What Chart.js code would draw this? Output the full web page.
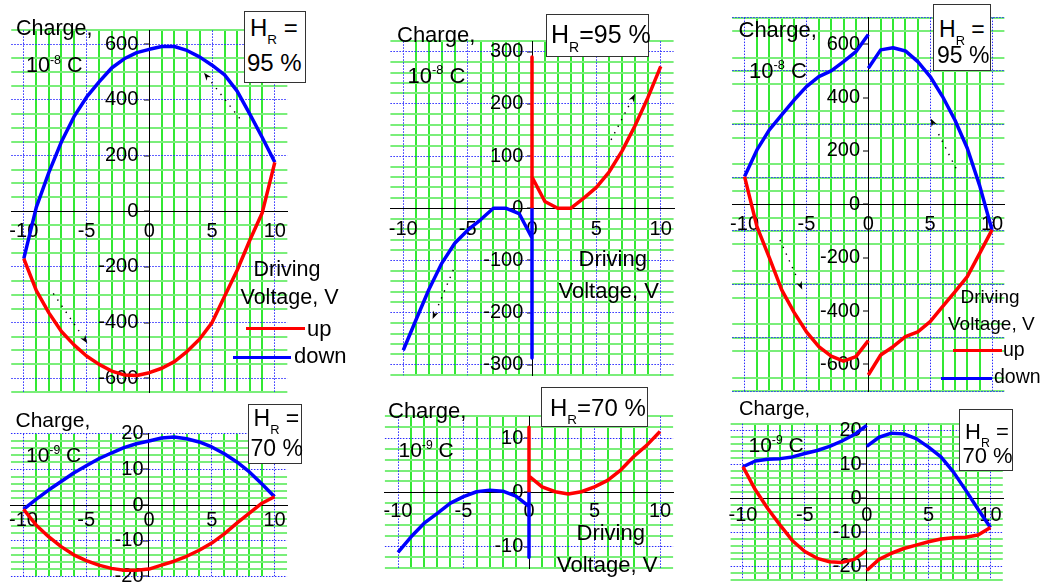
<!DOCTYPE html>
<html>
<head>
<meta charset="utf-8">
<title>Charge vs driving voltage loops</title>
<script src="https://cdn.jsdelivr.net/npm/chart.js@4.4.1/dist/chart.umd.min.js"></script>
<style>
  html, body { margin: 0; padding: 0; background: #fff; overflow: hidden; }
  #page { position: relative; width: 1043px; height: 585px; background: #fff; }
  #page canvas { position: absolute; left: 0; top: 0; }
  .t { position: absolute; white-space: nowrap; line-height: 1; color: #000;
       font-family: "Liberation Sans", Arial, Helvetica, sans-serif; }
  .t sup { font-size: 0.58em; line-height: 0; vertical-align: baseline; position: relative; top: -0.66em; }
  .t sub { font-size: 0.56em; line-height: 0; vertical-align: baseline; position: relative; top: 0.6em; }
  .box { position: absolute; background: #fff; border: 1px solid #333; box-sizing: border-box; }
  .key { position: absolute; height: 3.5px; }
</style>
</head>
<body>
<div id="page"></div>
<script>
// ---- driving voltage sweeps (V); null marks where a sweep restarts at 0 V ----
const sweepUp   = [-10, -9, -8, -7, -6, -5, -4, -3, -2, -1, 0, 1, 2, 3, 4, 5, 6, 7, 8, 9, 10];
const sweepDown = [10, 9, 8, 7, 6, 5, 4, 3, 2, 1, 0, -1, -2, -3, -4, -5, -6, -7, -8, -9, -10];
const splitUp   = [-10, -9, -8, -7, -6, -5, -4, -3, -2, -1, 0, null, 0, 1, 2, 3, 4, 5, 6, 7, 8, 9, 10];
const splitDown = [10, 9, 8, 7, 6, 5, 4, 3, 2, 1, 0, null, 0, -1, -2, -3, -4, -5, -6, -7, -8, -9, -10];
const fromZeroUp   = [0, 0, 0, 1, 2, 3, 4, 5, 6, 7, 8, 9, 10];
const fromZeroDown = [0, 0, 0, -1, -2, -3, -4, -5, -6, -7, -8, -9, -10];

// ---- charge, H_R = 95 % (units of 1e-8 C) ----
const q95LoopUp   = [-170, -285, -365, -432, -480, -520, -550, -574, -588, -590, -580, -564, -540, -504, -460, -400, -305, -212, -105, -5, 176];
const q95LoopDown = [176, 265, 350, 432, 490, 525, 555, 578, 592, 592, 582, 570, 548, 515, 465, 410, 340, 250, 140, 15, -170];
const q95ZeroUp   = [0, 290, 60, 13, 0, 0, 19, 40, 70, 110, 158, 212, 272];
const q95ZeroDown = [0, -287, -57, -10, 0, 0, -22, -42, -67, -105, -155, -213, -272];
const q95SplitUp   = [104, -84, -200, -321, -405, -478, -534, -569, -588, -571, -511, null, -640, -565, -534, -496, -478, -440, -384, -328, -271, -184, -96];
const q95SplitDown = [-96, 70, 210, 316, 404, 479, 535, 575, 587, 579, 510, null, 637, 572, 535, 500, 479, 441, 391, 335, 279, 204, 104];

// ---- charge, H_R = 70 % (units of 1e-9 C) ----
const q70LoopUp   = [-1.2, -5.6, -8.9, -11.7, -14.0, -15.6, -16.9, -17.8, -18.3, -18.3, -18.0, -16.9, -15.8, -14.4, -12.7, -10.7, -8.1, -5.1, -2.3, 0.5, 2.3];
const q70LoopDown = [2.3, 5.9, 9.3, 12.1, 14.4, 16.3, 17.7, 18.6, 19.1, 18.8, 18.0, 17.2, 16.1, 14.6, 13.0, 11.0, 9.0, 6.6, 4.2, 1.6, -1.2];
const q70ZeroUp   = [0, 12, 3.0, 1.0, 0.1, -0.3, 0.1, 1.0, 2.2, 4.1, 6.6, 8.7, 11.2];
const q70ZeroDown = [0, -12, -2.6, -0.7, 0.2, 0.4, 0.1, -0.8, -2.0, -3.9, -5.7, -8.2, -11.1];
const q70SplitUp   = [9.3, 2.5, -3.0, -7.9, -12.5, -15.7, -17.7, -18.7, -18.9, -18.0, -15.3, null, -21.3, -18.0, -16.2, -14.8, -13.8, -12.8, -12.0, -11.6, -11.5, -10.8, -8.6];
const q70SplitDown = [-8.6, -3.2, 2.4, 7.8, 12.2, 15.1, 17.6, 19.0, 19.2, 18.0, 15.3, null, 21.5, 18.8, 16.9, 15.3, 14.1, 13.2, 12.2, 11.7, 11.5, 11.0, 9.3];

// ---- tick labels ----
const voltTicks   = [-10, -5, 0, 5, 10];
const q95LoopTicks  = [-600, -400, -200, 0, 200, 400, 600];
const q95ZeroTicks  = [-300, -200, -100, 0, 100, 200, 300];
const q95SplitTicks = [-600, -400, -200, 0, 200, 400, 600];
const q70LoopTicks  = [-20, -10, 0, 10, 20];
const q70ZeroTicks  = [-10, 0, 10];
const q70SplitTicks = [-20, -10, 0, 10, 20];

// ---- sweep direction arrows: [fromV, fromQ, toV, toQ] ----
const q95LoopArrows  = [[7.2, 334, 4.36, 498], [-7.65, -295, -4.94, -474]];
const q95ZeroArrows  = [[6.14, 131, 8.0, 219], [-6.11, -118, -7.72, -212]];
const q95SplitArrows = [[7.09, 135, 5.04, 322], [-7.14, -134, -5.34, -319]];

// ---- styling ----
const W = 1043, H = 585;
const RED = '#ff0000', BLUE = '#0000ff';
const GRID_V = '#33e833', GRID_H = '#7aee7a', GRID_MAJOR = '#2b2bff';
const TICK_FONT = '20px "Liberation Sans", Arial, Helvetica, sans-serif';
const CLEAR = 'rgba(0,0,0,0)';

// plot areas [left, top, right, bottom] and charge axis [min, max, minor step, major step]
const panels = [
  { up: [sweepUp, q95LoopUp], down: [sweepDown, q95LoopDown], area: [11.25, 30.4, 287.35, 392.2],
    q: [-650, 650, 50, 200], yTicks: q95LoopTicks, xDrop: 26, yGap: 11, arrows: q95LoopArrows },
  { up: [fromZeroUp, q95ZeroUp], down: [fromZeroDown, q95ZeroDown], area: [390.4, 41.3, 673.6, 375.3],
    q: [-320, 320, 20, 100], yTicks: q95ZeroTicks, xDrop: 26.7, yGap: 8.7, arrows: q95ZeroArrows },
  { up: [splitUp, q95SplitUp], down: [splitDown, q95SplitDown], area: [732.2, 17.6, 1004.4, 391.0],
    q: [-700, 700, 50, 200], yTicks: q95SplitTicks, xDrop: 25.7, yGap: 8.3, arrows: q95SplitArrows },
  { up: [sweepUp, q70LoopUp], down: [sweepDown, q70LoopDown], area: [10.95, 433.8, 287.05, 576.2],
    q: [-20, 20, 2, 10], yTicks: q70LoopTicks, xDrop: 21, yGap: 5.5, arrows: [] },
  { up: [fromZeroUp, q70ZeroUp], down: [fromZeroDown, q70ZeroDown], area: [384.9, 416.4, 673.1, 568.2],
    q: [-14, 14, 2, 10], yTicks: q70ZeroTicks, xDrop: 24.3, yGap: 5.7, arrows: [] },
  { up: [splitUp, q70SplitUp], down: [splitDown, q70SplitDown], area: [730.6, 423.7, 1002.8, 579.7],
    q: [-24, 22, 2, 10], yTicks: q70SplitTicks, xDrop: 22.4, yGap: 5, arrows: [] }
];

function series(v, q) {
  return v.map((x, i) => (x === null ? { x: 0, y: null } : { x: x, y: q[i] }));
}
function onStep(v, step) {
  return Math.abs(v / step - Math.round(v / step)) < 1e-6;
}

// numbers next to the axes that cross at the origin
function axisNumbers(p) {
  return {
    id: 'axisNumbers',
    beforeDatasetsDraw(chart) {
      const ctx = chart.ctx, xs = chart.scales.x, ys = chart.scales.y;
      const x0 = xs.getPixelForValue(0), y0 = ys.getPixelForValue(0);
      ctx.save();
      ctx.font = TICK_FONT;
      ctx.fillStyle = '#000';
      ctx.textAlign = 'center';
      ctx.textBaseline = 'alphabetic';
      voltTicks.forEach(v => ctx.fillText(String(v), xs.getPixelForValue(v), y0 + p.xDrop));
      ctx.textAlign = 'right';
      ctx.textBaseline = 'middle';
      p.yTicks.forEach(v => ctx.fillText(String(v), x0 - p.yGap, ys.getPixelForValue(v)));
      ctx.restore();
    }
  };
}

// dotted arrows showing the sweep direction
function sweepArrows(p) {
  return {
    id: 'sweepArrows',
    afterDatasetsDraw(chart) {
      const ctx = chart.ctx, xs = chart.scales.x, ys = chart.scales.y;
      ctx.save();
      ctx.strokeStyle = '#000';
      ctx.fillStyle = '#000';
      p.arrows.forEach(a => {
        const x1 = xs.getPixelForValue(a[0]), y1 = ys.getPixelForValue(a[1]);
        const x2 = xs.getPixelForValue(a[2]), y2 = ys.getPixelForValue(a[3]);
        const ang = Math.atan2(y2 - y1, x2 - x1);
        const c = Math.cos(ang), s = Math.sin(ang);
        const len = 8, half = 3;
        ctx.lineWidth = 1.4;
        ctx.setLineDash([1.4, 6]);
        ctx.beginPath();
        ctx.moveTo(x1, y1);
        ctx.lineTo(x2 - c * (len + 4), y2 - s * (len + 4));
        ctx.stroke();
        ctx.setLineDash([]);
        ctx.beginPath();
        ctx.moveTo(x2, y2);
        ctx.lineTo(x2 - c * len + s * half, y2 - s * len - c * half);
        ctx.lineTo(x2 - c * len * 0.7, y2 - s * len * 0.7);
        ctx.lineTo(x2 - c * len - s * half, y2 - s * len + c * half);
        ctx.closePath();
        ctx.fill();
      });
      ctx.restore();
    }
  };
}

function minorScale(axis, min, max, step, major, color) {
  const isX = axis === 'x';
  return {
    type: 'linear', axis: axis, min: min, max: max,
    position: isX ? { y: 0 } : { x: 0 },
    ticks: { display: false, stepSize: step, maxTicksLimit: 1000 },
    grid: {
      z: -2,
      lineWidth: 2,
      drawTicks: !isX,
      tickLength: 5,
      tickWidth: 1,
      color: c => {
        if (!c.tick) return color;
        const v = c.tick.value;
        if (onStep(v, major)) return CLEAR;
        if (isX && (v <= min || v >= max)) return CLEAR;
        return color;
      },
      tickColor: c => (c.tick && onStep(c.tick.value, major) ? '#000' : CLEAR)
    },
    border: { display: true, color: '#000', width: 1, z: 0 }
  };
}

function majorScale(axis, min, max, step) {
  return {
    type: 'linear', axis: axis, min: min, max: max,
    position: axis === 'x' ? { y: 0 } : { x: 0 },
    ticks: { display: false, stepSize: step, includeBounds: false, maxTicksLimit: 1000 },
    grid: {
      z: -1,
      lineWidth: 1,
      drawTicks: false,
      color: c => (c.tick && Math.abs(c.tick.value) < 1e-9 ? CLEAR : GRID_MAJOR)
    },
    border: { display: false, dash: [1.5, 1.5] }
  };
}

const page = document.getElementById('page');

panels.forEach(p => {
  const cv = document.createElement('canvas');
  cv.width = W;
  cv.height = H;
  cv.style.width = W + 'px';
  cv.style.height = H + 'px';
  page.appendChild(cv);
  const a = p.area;
  new Chart(cv, {
    type: 'line',
    data: {
      datasets: [
        { label: 'up', data: series(p.up[0], p.up[1]), borderColor: RED, backgroundColor: RED,
          borderWidth: 3.5, pointRadius: 0, tension: 0, spanGaps: false, fill: false, borderJoinStyle: 'round' },
        { label: 'down', data: series(p.down[0], p.down[1]), borderColor: BLUE, backgroundColor: BLUE,
          borderWidth: 3.5, pointRadius: 0, tension: 0, spanGaps: false, fill: false, borderJoinStyle: 'round' }
      ]
    },
    options: {
      responsive: false,
      animation: false,
      events: [],
      layout: { padding: { left: a[0], top: a[1], right: W - a[2], bottom: H - a[3] } },
      plugins: { legend: { display: false }, tooltip: { enabled: false } },
      scales: {
        x: minorScale('x', -11, 11, 1, 5, GRID_V),
        y: minorScale('y', p.q[0], p.q[1], p.q[2], p.q[3], GRID_H),
        xMajor: majorScale('x', -11, 11, 5),
        yMajor: majorScale('y', p.q[0], p.q[1], p.q[3])
      }
    },
    plugins: [axisNumbers(p), sweepArrows(p)]
  });
});

// ---- titles, humidity boxes, axis captions and keys ----
const boxes = [
  [244, 11, 62, 72], [546, 14, 103, 43], [933, 4, 58, 67],
  [248, 404, 54, 60], [541, 387, 107, 40], [959, 409, 54, 62]
];
const keys = [
  [246, 328.3, 59, RED], [232.7, 357.3, 58, BLUE],
  [953.3, 350.7, 48.4, RED], [940.7, 378.3, 51, BLUE]
];
const texts = [
  // [html, left, baseline, font size]
  ['Charge,', 16, 36, 21.5], ['10<sup>-8</sup> C', 26, 73.3, 21.5],
  ['H<sub>R</sub> =', 250, 36.7, 24], ['95 %', 247, 71.7, 24],
  ['Driving', 253.5, 276.7, 21.5], ['Voltage, V', 240.5, 305, 21.5],
  ['up', 307, 336.7, 22], ['down', 294, 364, 22],

  ['Charge,', 397, 42.7, 22], ['10<sup>-8</sup> C', 407.5, 83.3, 22],
  ['H<sub>R</sub>=95 %', 551, 43.3, 25],
  ['Driving', 578.5, 266.7, 22], ['Voltage, V', 558.5, 298.3, 22],

  ['Charge,', 738.5, 37.3, 22], ['10<sup>-8</sup> C', 749, 78.3, 22],
  ['H<sub>R</sub> =', 939, 37.3, 23], ['95 %', 937, 63.3, 23],
  ['Driving', 960.5, 303.3, 19], ['Voltage, V', 948, 330, 19],
  ['up', 1003, 356.7, 19.5], ['down', 994, 384, 19.5],

  ['Charge,', 15.5, 426.7, 21], ['10<sup>-9</sup> C', 26, 461.7, 21],
  ['H<sub>R</sub> =', 253.5, 426.7, 23], ['70 %', 250.5, 456, 23],

  ['Charge,', 388, 418.3, 22], ['10<sup>-9</sup> C', 398.5, 456.7, 21],
  ['H<sub>R</sub>=70 %', 550, 416.7, 24],
  ['Driving', 576.5, 540.7, 22], ['Voltage, V', 557, 572.7, 22],

  ['Charge,', 739, 415, 20], ['10<sup>-9</sup> C', 748.5, 451.7, 21],
  ['H<sub>R</sub> =', 965, 440, 22], ['70 %', 962.5, 464, 22]
];

boxes.forEach(b => {
  const d = document.createElement('div');
  d.className = 'box';
  d.style.left = b[0] + 'px';
  d.style.top = b[1] + 'px';
  d.style.width = b[2] + 'px';
  d.style.height = b[3] + 'px';
  page.appendChild(d);
});
keys.forEach(k => {
  const d = document.createElement('div');
  d.className = 'key';
  d.style.left = k[0] + 'px';
  d.style.top = (k[1] - 1.75) + 'px';
  d.style.width = k[2] + 'px';
  d.style.background = k[3];
  page.appendChild(d);
});
texts.forEach(t => {
  const d = document.createElement('div');
  d.className = 't';
  d.innerHTML = t[0];
  d.style.fontSize = t[3] + 'px';
  d.style.left = t[1] + 'px';
  d.style.top = (t[2] - 0.8465 * t[3]) + 'px';
  page.appendChild(d);
});
</script>
</body>
</html>
